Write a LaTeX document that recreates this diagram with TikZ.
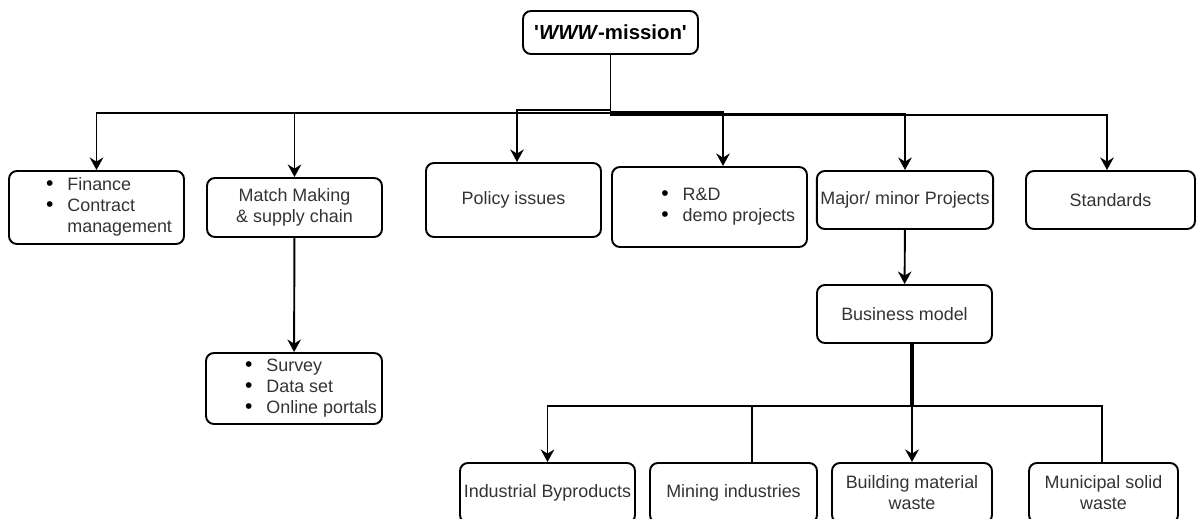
\documentclass[tikz,border=0pt]{standalone}
\usepackage{fontspec}
\setmainfont{Liberation Sans}
\usetikzlibrary{arrows.meta,positioning}
\definecolor{txtgray}{HTML}{333333}
\tikzset{rbox/.style={draw=black, rounded corners=0.16cm, line width=1.1pt, text=txtgray, font=\fontsize{10.2}{12}\selectfont, align=center, inner sep=2pt}}
\tikzset{sz/.style 2 args={minimum width=#1*0.02cm, minimum height=#2*0.02cm}}
\tikzset{arr/.style={line width=1.1pt, -{Stealth[length=0.25cm, width=0.27cm]}}}
\tikzset{lnk/.style={line width=1.1pt}}
\tikzset{trunk/.style={line width=2.2pt}}
\newcommand{\blt}{\textcolor{black}{\fontsize{12}{12}\selectfont\textbullet}}

\begin{document}
\begin{tikzpicture}[x=0.02cm, y=-0.02cm]
    \clip (0, 0) rectangle (1197, 519);
    \node[rbox, sz={175}{43}, text=black, font=\fontsize{11.6}{13}\selectfont\bfseries] (root) at (610.5, 32.5) {\textquotesingle\textit{WWW}-mission\textquotesingle};
    \node[rbox, sz={175}{73}] (fin) at (96.5, 207.5) {\begin{tabular}{@{\hspace{0.5cm}}l@{\hspace{0.28cm}}l@{}}\blt & Finance\\ \blt & Contract\\ & management\end{tabular}};
    \node[rbox, sz={175}{59}] (match) at (294.5, 207.5) {Match Making\\ \& supply chain};
    \node[rbox, sz={175}{74}] (pol) at (513.5, 200) {Policy issues};
    \node[rbox, sz={195}{80}] (rd) at (709.5, 207) {\begin{tabular}{@{\hspace{0.75cm}}l@{\hspace{0.28cm}}l@{}}\blt & R\&D\\ \blt & demo projects\end{tabular}};
    \node[rbox, sz={176}{58}] (maj) at (905, 200) {Major/ minor Projects};
    \node[rbox, sz={169}{58}] (std) at (1110.5, 200) {Standards};
    \node[rbox, sz={176}{71}] (survey) at (294, 388.5) {\begin{tabular}{@{\hspace{0.68cm}}l@{\hspace{0.28cm}}l@{}}\blt & Survey\\ \blt & Data set\\ \blt & Online portals\end{tabular}};
    \node[rbox, sz={175}{58}] (biz) at (904.5, 314) {Business model};
    \node[rbox, sz={175}{60}] (ind) at (547.5, 493) {Industrial Byproducts};
    \node[rbox, sz={167}{60}] (mine) at (733.5, 493) {Mining industries};
    \node[rbox, sz={160}{60}] (bld) at (912, 493) {Building material\\ waste};
    \node[rbox, sz={149}{60}] (mun) at (1103.5, 493) {Municipal solid\\ waste};

    \draw[arr] (root.south) -- ++(0, 58) -| (fin.north);
    \draw[arr] (root.south) -- ++(0, 58) -| (match.north);
    \draw[arr] (root.south) -- ++(0, 55) -| ([xshift=0.07cm]pol.north);
    \draw[arr] (root.south) -- ++(0, 57) -| ([xshift=0.27cm]rd.north);
    \draw[arr] (root.south) -- ++(0, 59) -| (maj.north);
    \draw[arr] (root.south) -- ++(0, 60) -| ([xshift=-0.07cm]std.north);
    \draw[arr] (match) -- (survey);
    \draw[arr] (maj) -- (biz);

    \draw[trunk] ([xshift=0.15cm]biz.south) -- ++(0, 62);
    \draw[arr] ([xshift=0.15cm]biz.south) -- ++(0, 62) -| (ind.north);
    \draw[lnk] ([xshift=0.15cm]biz.south) -- ++(0, 62) -| ([xshift=0.37cm]mine.north);
    \draw[arr] ([xshift=0.15cm]biz.south) -- (bld.north);
    \draw[lnk] ([xshift=0.15cm]biz.south) -- ++(0, 62) -| ([xshift=-0.03cm]mun.north);
\end{tikzpicture}
\end{document}
